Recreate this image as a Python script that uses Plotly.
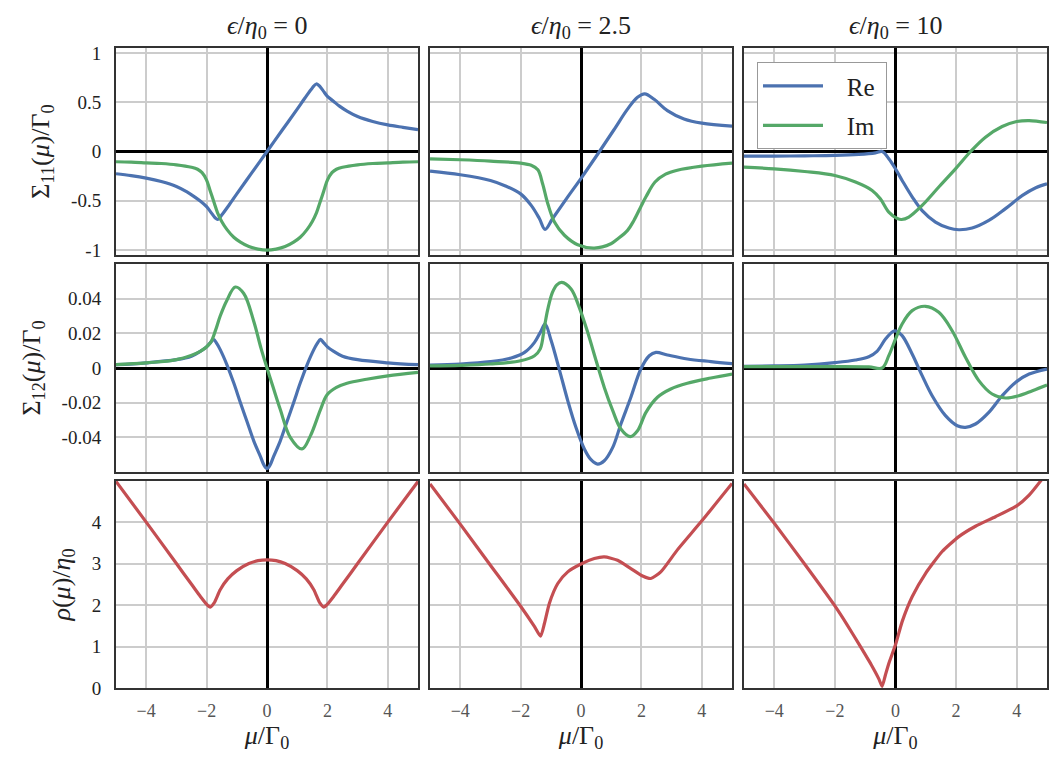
import plotly.graph_objects as go
from plotly.subplots import make_subplots

# ---------------- data ----------------
col_titles = ["<i>ϵ</i>/<i>η</i><sub>0</sub> = 0",
              "<i>ϵ</i>/<i>η</i><sub>0</sub> = 2.5",
              "<i>ϵ</i>/<i>η</i><sub>0</sub> = 10"]

# Sigma_11, eps = 0
re11_a_x = [-5, -4.5, -4, -3.5, -3, -2.65, -2.4, -2.2, -2.0, -1.85, -1.72, -1.63, -1.5, -1.25, -1.0, -0.5, 0,
            0.5, 1.0, 1.25, 1.5, 1.63, 1.72, 1.85, 2.0, 2.2, 2.4, 2.65, 3, 3.5, 4, 4.5, 5]
re11_a_y = [-0.226, -0.245, -0.27, -0.305, -0.355, -0.41, -0.46, -0.505, -0.56, -0.62, -0.672, -0.69, -0.645, -0.54, -0.43, -0.215, 0,
            0.215, 0.43, 0.54, 0.645, 0.685, 0.67, 0.62, 0.56, 0.51, 0.46, 0.41, 0.355, 0.305, 0.27, 0.245, 0.222]
im11_a_x = [-5, -4.5, -4, -3.5, -3, -2.5, -2.3, -2.15, -2.0, -1.88, -1.75, -1.64, -1.5, -1.33, -1.1, -0.88, -0.6, -0.3, 0,
            0.3, 0.6, 0.88, 1.1, 1.33, 1.5, 1.64, 1.75, 1.88, 2.0, 2.15, 2.3, 2.5, 3, 3.5, 4, 4.5, 5]
im11_a_y = [-0.104, -0.108, -0.115, -0.122, -0.135, -0.16, -0.18, -0.215, -0.29, -0.40, -0.52, -0.62, -0.71, -0.79, -0.87, -0.92, -0.965, -0.99, -1.0,
            -0.99, -0.965, -0.92, -0.87, -0.79, -0.71, -0.62, -0.52, -0.40, -0.29, -0.215, -0.18, -0.16, -0.135, -0.122, -0.115, -0.108, -0.104]

# Sigma_11, eps = 2.5
re11_b_x = [-5, -4, -3, -2.5, -2, -1.65, -1.38, -1.19, -0.94, -0.44, 0, 0.61, 1.1, 1.54, 1.87, 2.11, 2.42, 2.86, 3.41, 4, 5]
re11_b_y = [-0.20, -0.236, -0.294, -0.35, -0.43, -0.547, -0.68, -0.79, -0.68, -0.46, -0.272, 0, 0.225, 0.43, 0.55, 0.585, 0.53, 0.415, 0.33, 0.287, 0.257]
im11_b_x = [-5, -4, -3, -2, -1.65, -1.43, -1.27, -1.1, -0.88, -0.55, -0.11, 0.44, 0.99, 1.2, 1.54, 1.75, 1.98, 2.15, 2.45, 2.8, 3.19, 4, 5]
im11_b_y = [-0.074, -0.084, -0.098, -0.118, -0.14, -0.186, -0.33, -0.53, -0.716, -0.85, -0.946, -0.98, -0.936, -0.89, -0.80, -0.70, -0.56, -0.46, -0.31, -0.23, -0.19, -0.149, -0.118]

# Sigma_11, eps = 10
re11_c_x = [-5, -4, -3, -2, -1.21, -0.66, -0.44, -0.22, 0, 0.22, 0.55, 0.88, 1.32, 1.76, 2.09, 2.53, 3.08, 3.63, 4.19, 4.63, 5]
re11_c_y = [-0.047, -0.047, -0.044, -0.04, -0.03, -0.014, 0, -0.074, -0.176, -0.294, -0.46, -0.60, -0.716, -0.777, -0.794, -0.777, -0.70, -0.58, -0.446, -0.368, -0.328]
im11_c_x = [-5, -4, -3, -2, -1.32, -0.77, -0.5, -0.22, 0.06, 0.2, 0.44, 0.88, 1.43, 1.98, 2.48, 2.97, 3.52, 4, 4.41, 5]
im11_c_y = [-0.159, -0.176, -0.203, -0.243, -0.31, -0.395, -0.48, -0.615, -0.68, -0.69, -0.665, -0.547, -0.36, -0.176, 0, 0.145, 0.253, 0.304, 0.314, 0.294]

# Sigma_12, eps = 0
re12_a_x = [-5, -4, -3, -2.5, -2.21, -2.0, -1.88, -1.77, -1.66, -1.55, -1.33, -1.1, -0.88, -0.66, -0.44, -0.22, -0.1, 0,
            0.1, 0.22, 0.44, 0.66, 0.88, 1.1, 1.33, 1.55, 1.66, 1.77, 1.88, 2.0, 2.21, 2.5, 3, 4, 5]
re12_a_y = [0.0019, 0.003, 0.0048, 0.0068, 0.0096, 0.0122, 0.0145, 0.0165, 0.014, 0.0106, 0.002, -0.0087, -0.020, -0.031, -0.042, -0.051, -0.056, -0.058,
            -0.056, -0.051, -0.042, -0.031, -0.020, -0.0087, 0.002, 0.0106, 0.014, 0.0165, 0.0145, 0.0122, 0.0096, 0.0068, 0.0048, 0.003, 0.0019]
im12_a_x = [-5, -4, -3, -2.21, -1.88, -1.7, -1.55, -1.33, -1.05, -0.77, -0.44, -0.2, 0, 0.2, 0.44, 0.77, 1.16, 1.44, 1.77, 1.99, 2.3, 2.65, 3.3, 4, 5]
im12_a_y = [0.002, 0.003, 0.0048, 0.0096, 0.0144, 0.022, 0.030, 0.039, 0.0467, 0.043, 0.027, 0.0115, 0.0, -0.011, -0.024, -0.040, -0.0467, -0.039, -0.024, -0.0154, -0.0112, -0.0088, -0.0065, -0.0045, -0.0025]

# Sigma_12, eps = 2.5
re12_b_x = [-5, -4, -3, -2.31, -1.87, -1.54, -1.32, -1.19, -0.99, -0.71, -0.44, -0.17, 0.11, 0.33, 0.55, 0.77, 1.05, 1.32, 1.65, 1.98, 2.26, 2.48, 2.86, 3.52, 4.3, 5]
re12_b_y = [0.0017, 0.0023, 0.0037, 0.0058, 0.009, 0.0148, 0.0215, 0.0254, 0.0158, -0.0015, -0.0188, -0.0342, -0.0467, -0.0529, -0.0554, -0.0535, -0.0458, -0.0323, -0.0169, -0.0006, 0.0071, 0.009, 0.0075, 0.0052, 0.0037, 0.0025]
im12_b_x = [-5, -4, -3, -2, -1.54, -1.35, -1.21, -1.1, -0.95, -0.8, -0.64, -0.33, -0.06, 0.22, 0.5, 0.77, 1.05, 1.32, 1.63, 1.87, 2.15, 2.53, 2.97, 3.52, 4.3, 5]
im12_b_y = [0.0012, 0.0015, 0.0023, 0.0042, 0.0071, 0.011, 0.024, 0.034, 0.0435, 0.048, 0.0494, 0.0456, 0.035, 0.0206, 0.0042, -0.0112, -0.0246, -0.0352, -0.0396, -0.0362, -0.0256, -0.0169, -0.0121, -0.0088, -0.0058, -0.0035]

# Sigma_12, eps = 10
re12_c_x = [-5, -4, -3, -2, -1.32, -0.88, -0.61, -0.33, -0.09, 0.02, 0.22, 0.55, 0.88, 1.21, 1.65, 2.04, 2.31, 2.64, 3.08, 3.52, 3.96, 4.41, 5]
re12_c_y = [0.001, 0.0012, 0.0017, 0.0031, 0.0046, 0.0065, 0.0096, 0.0167, 0.021, 0.0213, 0.0187, 0.0081, -0.0044, -0.016, -0.0275, -0.0333, -0.0342, -0.0323, -0.0256, -0.016, -0.0083, -0.0035, -0.0006]
im12_c_x = [-5, -3, -2, -0.88, -0.44, -0.22, 0, 0.22, 0.55, 0.99, 1.43, 1.87, 2.31, 2.75, 3.19, 3.63, 4.07, 4.52, 5]
im12_c_y = [0.0008, 0.0008, 0.0008, 0.0006, 0.0, 0.0071, 0.0167, 0.0254, 0.0331, 0.0356, 0.0321, 0.0215, 0.0062, -0.0073, -0.015, -0.0173, -0.016, -0.0131, -0.0098]

# rho
rho_a_x = [-5, -4, -3, -2.5, -2.2, -2.0, -1.88, -1.75, -1.55, -1.3, -1.0, -0.6, -0.3, 0,
           0.3, 0.6, 1.0, 1.3, 1.55, 1.75, 1.88, 2.0, 2.2, 2.5, 3, 4, 5]
rho_a_y = [4.98, 4.0, 3.0, 2.5, 2.2, 2.02, 1.95, 2.05, 2.37, 2.63, 2.83, 3.0, 3.07, 3.09,
           3.07, 3.0, 2.83, 2.63, 2.37, 2.05, 1.95, 2.02, 2.2, 2.5, 3.0, 4.0, 4.98]
rho_b_x = [-5, -4, -3, -2, -1.54, -1.34, -1.21, -1.05, -0.77, -0.44, 0, 0.44, 0.77, 1.21, 1.65, 2.04, 2.31, 2.64, 3.19, 4, 5]
rho_b_y = [4.92, 3.95, 2.96, 1.97, 1.48, 1.25, 1.56, 2.04, 2.52, 2.8, 2.99, 3.12, 3.16, 3.08, 2.88, 2.7, 2.64, 2.8, 3.33, 4.03, 4.93]
rho_c_x = [-5, -4, -3, -2, -1.6, -1.2, -0.8, -0.55, -0.44, -0.33, -0.22, 0, 0.22, 0.55, 0.99, 1.54, 2.09, 2.64, 3.3, 4, 4.41, 4.8, 5]
rho_c_y = [4.92, 3.97, 2.99, 1.98, 1.53, 1.05, 0.56, 0.22, 0.04, 0.32, 0.59, 1.04, 1.6, 2.2, 2.76, 3.29, 3.65, 3.9, 4.13, 4.39, 4.65, 5.0, 5.2]

x_tickvals = [-4, -2, 0, 2, 4]
x_ticktext = ["−4", "−2", "0", "2", "4"]
y1_tickvals = [-1, -0.5, 0, 0.5, 1]
y1_ticktext = ["-1", "-0.5", "0", "0.5", "1"]
y2_tickvals = [-0.04, -0.02, 0, 0.02, 0.04]
y2_ticktext = ["-0.04", "-0.02", "0", "0.02", "0.04"]
y3_tickvals = [0, 1, 2, 3, 4]
y3_ticktext = ["0", "1", "2", "3", "4"]

# ---------------- figure ----------------
BLUE = "#4C72B0"
GREEN = "#55A868"
RED = "#C44E52"
FONT = "Liberation Serif"

fig = make_subplots(rows=3, cols=3)

def add(x, y, color, row, col, name=None, show=False, smooth=1.0):
    fig.add_trace(go.Scatter(x=x, y=y, mode="lines",
                             line=dict(color=color, width=3.2, shape="spline", smoothing=smooth),
                             name=name, showlegend=show, legendgroup=name,
                             hoverinfo="skip"), row=row, col=col)

add(re11_a_x, re11_a_y, BLUE, 1, 1)
add(im11_a_x, im11_a_y, GREEN, 1, 1)
add(re11_b_x, re11_b_y, BLUE, 1, 2)
add(im11_b_x, im11_b_y, GREEN, 1, 2)
add(re11_c_x, re11_c_y, BLUE, 1, 3, "\u00a0\u00a0\u00a0Re\u00a0", True)
add(im11_c_x, im11_c_y, GREEN, 1, 3, "\u00a0\u00a0\u00a0Im\u00a0", True)

add(re12_a_x, re12_a_y, BLUE, 2, 1)
add(im12_a_x, im12_a_y, GREEN, 2, 1)
add(re12_b_x, re12_b_y, BLUE, 2, 2)
add(im12_b_x, im12_b_y, GREEN, 2, 2)
add(re12_c_x, re12_c_y, BLUE, 2, 3)
add(im12_c_x, im12_c_y, GREEN, 2, 3)

add(rho_a_x, rho_a_y, RED, 3, 1, smooth=0.6)
add(rho_b_x, rho_b_y, RED, 3, 2, smooth=0.6)
add(rho_c_x, rho_c_y, RED, 3, 3, smooth=0.5)

# layout geometry (plot area 116..1047 x 48..688)
col_domains = [[0.0, 0.3244], [0.3373, 0.6617], [0.6745, 1.0]]
row_domains = [[0.6766, 1.0], [0.3375, 0.6625], [0.0, 0.3234]]
yranges = [[-1.05, 1.05], [-0.06, 0.06], [0, 4.99]]
yticks = [(y1_tickvals, y1_ticktext), (y2_tickvals, y2_ticktext), (y3_tickvals, y3_ticktext)]
ytitles = ["Σ<sub>11</sub>(<i>μ</i>)/Γ<sub>0</sub>",
           "Σ<sub>12</sub>(<i>μ</i>)/Γ<sub>0</sub>",
           "<i>ρ</i>(<i>μ</i>)/<i>η</i><sub>0</sub>"]

for r in range(3):
    for c in range(3):
        idx = r * 3 + c + 1
        xa = "xaxis" if idx == 1 else f"xaxis{idx}"
        ya = "yaxis" if idx == 1 else f"yaxis{idx}"
        fig.layout[xa].update(
            domain=col_domains[c], range=[-5, 5],
            tickvals=x_tickvals, ticktext=x_ticktext,
            showticklabels=(r == 2),
            tickfont=dict(family=FONT, size=18, color="#555555"),
            ticks="outside", ticklen=5, tickcolor="rgba(0,0,0,0)",
            showgrid=True, gridcolor="#cccccc", gridwidth=1.5,
            zeroline=True, zerolinecolor="black", zerolinewidth=3,
            showline=True, linecolor="#333333", linewidth=2, mirror=True,
            title=dict(text="<i>μ</i>/Γ<sub>0</sub>" if r == 2 else "",
                       font=dict(family=FONT, size=26, color="#222222"), standoff=6),
        )
        fig.layout[ya].update(
            domain=row_domains[r], range=yranges[r],
            tickvals=yticks[r][0], ticktext=yticks[r][1],
            showticklabels=(c == 0),
            tickfont=dict(family=FONT, size=19, color="#222222"),
            ticks="outside", ticklen=9, tickcolor="rgba(0,0,0,0)",
            showgrid=True, gridcolor="#cccccc", gridwidth=1.5,
            zeroline=True, zerolinecolor="black", zerolinewidth=3,
            showline=True, linecolor="#333333", linewidth=2, mirror=True,
            title=dict(text=ytitles[r] if c == 0 else "",
                       font=dict(family=FONT, size=26, color="#222222"), standoff=14),
        )

for c in range(3):
    fig.add_annotation(text=col_titles[c], xref="paper", yref="paper",
                       x=sum(col_domains[c]) / 2, y=1.0, xanchor="center", yanchor="bottom",
                       yshift=3, showarrow=False,
                       font=dict(family=FONT, size=26, color="#222222"))

fig.update_layout(
    width=1062, height=777,
    margin=dict(l=116, r=15, t=48, b=89),
    paper_bgcolor="white", plot_bgcolor="white",
    font=dict(family=FONT, color="#222222"),
    legend=dict(x=0.6885, y=0.978, xanchor="left", yanchor="top",
                bgcolor="white", bordercolor="#999999", borderwidth=1,
                font=dict(family=FONT, size=25, color="#222222"),
                traceorder="grouped", tracegroupgap=4, itemwidth=60),
)

fig.write_html("out.html")
